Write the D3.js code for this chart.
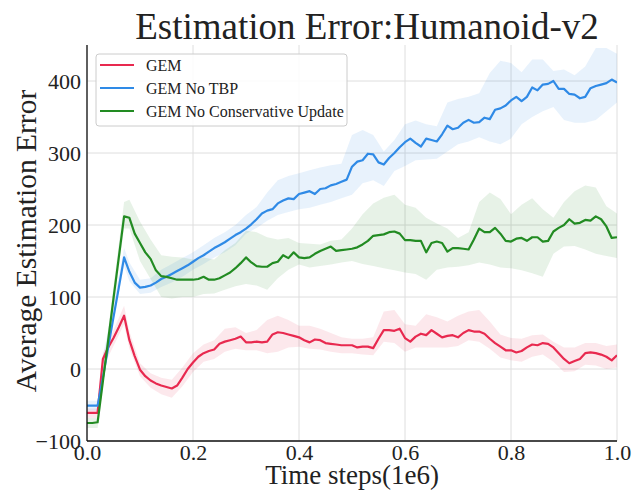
<!DOCTYPE html>
<html><head><meta charset="utf-8">
<script src="https://cdn.jsdelivr.net/npm/d3@7"></script>
<style>body{margin:0;background:#fff}svg{display:block}text{font-family:"Liberation Serif","Times New Roman",serif;fill:#222}</style>
</head><body><svg id="c" width="632" height="491"></svg>
<script>
// ---- data ----
const steps = d3.range(101).map(i => i / 100);
const seriesNames = ["GEM", "GEM No TBP", "GEM No Conservative Update"];
const gem = [-61,-61,-61,14,30,43,58,74,40,18,
  -1,-10,-16,-20,-23,-25,-27,-23,-12,0,
  9,17,22,25,27,35,38,40,42,45,
  37,37,38,37,38,48,51,50,48,46,
  44,40,37,41,40,36,35,34,33,33,
  33,30,31,31,29,42,54,54,53,56,
  43,38,45,49,47,54,49,44,46,47,
  44,50,54,52,52,49,42,36,31,26,
  26,23,25,30,34,33,36,35,30,22,
  14,8,11,14,22,23,22,20,17,12,
  19];
const gemNoTBP = [-51,-51,-51,-12,30,72,113,155,135,120,
  113,114,116,120,125,128,132,136,140,144,
  149,154,158,163,168,172,176,181,186,190,
  195,201,208,216,220,222,230,234,237,236,
  243,245,247,243,250,251,255,257,260,263,
  281,288,290,299,298,287,284,293,300,308,
  315,320,314,309,320,318,316,326,338,333,
  335,342,346,342,343,349,347,360,362,366,
  373,378,372,378,391,387,395,396,400,389,
  389,382,381,376,378,390,393,395,397,402,
  398];
const gemNoCU = [-75,-75,-74,-17,40,98,155,212,210,188,
  175,162,153,137,129,128,126,124,124,124,
  124,125,128,124,124,126,130,134,140,147,
  155,148,143,142,142,147,149,158,154,162,
  155,154,155,160,164,167,170,164,165,166,
  167,169,173,178,185,186,187,190,191,188,
  179,179,178,178,162,175,177,175,163,168,
  168,167,166,180,195,190,190,196,188,178,
  177,181,182,178,183,183,177,178,191,196,
  200,208,202,203,207,206,212,208,198,182,
  183];
// band sample points
const bandT = [0,0.02,0.03,0.05,0.07,0.08,0.10,0.12,0.14,0.16,0.18,0.20,0.22,0.24,0.26,0.28,0.30,0.32,0.34,0.36,0.38,0.40,0.42,0.44,0.46,0.48,0.50,0.52,0.54,0.56,0.58,0.60,0.62,0.64,0.66,0.68,0.70,0.72,0.74,0.76,0.78,0.80,0.82,0.84,0.86,0.88,0.90,0.92,0.94,0.96,0.98,1.00];
const gemLow = [-68,-68,2,32,62,28,-10,-26,-35,-40,-24,-4,10,14,24,28,26,26,22,24,30,31,28,27,24,22,22,20,19,38,36,24,30,30,30,30,32,40,38,28,16,12,10,17,20,10,-4,-3,6,5,0,2];
const gemHigh = [-55,-55,22,54,88,52,8,-6,-12,-15,2,22,34,40,56,58,50,54,68,74,68,60,60,56,50,44,42,42,44,80,82,62,60,76,72,66,74,80,82,66,48,43,42,47,48,38,30,30,36,36,32,34];
const tbpLow = [-58,-58,2,70,143,122,104,106,114,120,128,138,146,155,162,172,188,196,206,214,218,222,224,228,232,237,242,258,262,254,275,282,290,291,292,302,312,316,322,316,312,320,340,350,358,364,346,342,342,346,358,370];
const tbpHigh = [-44,-44,18,90,168,148,124,126,138,146,154,162,172,182,190,200,214,225,245,262,268,272,276,280,283,285,325,332,325,302,318,340,345,340,337,370,375,378,383,411,428,425,412,430,430,414,416,408,420,446,446,438];
const cuLow = [-82,-82,-25,85,195,195,150,125,100,98,100,100,104,105,110,115,118,116,110,126,138,145,141,143,145,148,150,146,143,140,137,134,132,124,138,141,142,144,148,145,141,140,137,133,128,160,170,171,166,160,157,154];
const cuHigh = [-68,-68,-5,115,232,235,205,180,158,156,155,152,155,152,165,175,192,190,183,180,182,175,174,173,178,180,195,215,230,238,242,228,224,210,202,195,182,190,232,245,236,215,228,237,222,210,232,247,255,252,226,216];
const xTicks = [0, 0.2, 0.4, 0.6, 0.8, 1.0];
const yTicks = [-100, 0, 100, 200, 300, 400];
const colors = ["#e8294f", "#2f8ae6", "#228b22"];

// ---- chart ----
const FONT = '"Liberation Serif","Times New Roman",serif';
const svg = d3.select("#c");
const L = 87, R = 617, T = 45, B = 441;
const x = d3.scaleLinear().domain([0, 1]).range([L, R]);
const y = d3.scaleLinear().domain([-100, 450]).range([B, T]);

svg.append("defs").append("clipPath").attr("id", "clip")
  .append("rect").attr("x", L).attr("y", T).attr("width", R - L).attr("height", B - T);

// grid
const grid = svg.append("g");
grid.selectAll(".gx").data(xTicks).join("line")
  .attr("x1", d => x(d)).attr("x2", d => x(d)).attr("y1", T).attr("y2", B)
  .attr("stroke", "#dedede").attr("stroke-width", 1);
grid.selectAll(".gy").data(yTicks).join("line")
  .attr("x1", L).attr("x2", R).attr("y1", d => y(d)).attr("y2", d => y(d))
  .attr("stroke", "#dedede").attr("stroke-width", 1);

const plot = svg.append("g").attr("clip-path", "url(#clip)");
const bands = [[gemLow, gemHigh], [tbpLow, tbpHigh], [cuLow, cuHigh]];
const means = [gem, gemNoTBP, gemNoCU];

const area = d3.area().x(d => x(d.t)).y0(d => y(d.lo)).y1(d => y(d.hi));
bands.forEach((b, k) => {
  const pts = bandT.map((t, i) => ({t, lo: b[0][i], hi: b[1][i]}));
  plot.append("path").datum(pts).attr("d", area)
    .attr("fill", colors[k]).attr("fill-opacity", 0.11).attr("stroke", "none");
});
const line = d3.line().x(d => x(d.t)).y(d => y(d.v));
means.forEach((m, k) => {
  const pts = steps.map((t, i) => ({t, v: m[i]}));
  plot.append("path").datum(pts).attr("d", line)
    .attr("fill", "none").attr("stroke", colors[k]).attr("stroke-width", 2.2)
    .attr("stroke-linejoin", "round");
});

// axes
const xAxis = svg.append("g").attr("transform", `translate(0,${B})`)
  .call(d3.axisBottom(x).tickValues(xTicks).tickFormat(d3.format(".1f")).tickSize(0).tickPadding(3));
const yAxis = svg.append("g").attr("transform", `translate(${L},0)`)
  .call(d3.axisLeft(y).tickValues(yTicks).tickSize(0).tickPadding(6));
[xAxis, yAxis].forEach(a => {
  a.attr("font-family", FONT).attr("font-size", 22);
  a.select(".domain").attr("stroke", "#111").attr("stroke-width", 1.3);
  a.selectAll("text").style("font-family", FONT).style("font-size", "22px").attr("fill", "#222");
});
yAxis.select(".domain").attr("d", `M0,${B}V${T}`);
xAxis.select(".domain").attr("d", `M${L},0H${R}`);

// title & labels
svg.append("text").attr("x", 367).attr("y", 39).attr("text-anchor", "middle")
  .style("font-size", "37px").text("Estimation Error:Humanoid-v2");
svg.append("text").attr("x", 352).attr("y", 484).attr("text-anchor", "middle")
  .style("font-size", "27px").text("Time steps(1e6)");
svg.append("text").attr("transform", `translate(36,241) rotate(-90)`)
  .attr("text-anchor", "middle").style("font-size", "29.5px").text("Average Estimation Error");

// legend
const lg = svg.append("g");
lg.append("rect").attr("x", 96).attr("y", 54).attr("width", 251).attr("height", 72)
  .attr("rx", 3).attr("fill", "#fff").attr("fill-opacity", 0.85)
  .attr("stroke", "#cccccc").attr("stroke-width", 1);
seriesNames.forEach((n, k) => {
  const yy = 65 + k * 23;
  lg.append("line").attr("x1", 100).attr("x2", 134).attr("y1", yy).attr("y2", yy)
    .attr("stroke", colors[k]).attr("stroke-width", 2.2);
  lg.append("text").attr("x", 146).attr("y", yy).attr("dy", "0.35em")
    .style("font-size", "16px").text(n);
});
</script></body></html>
